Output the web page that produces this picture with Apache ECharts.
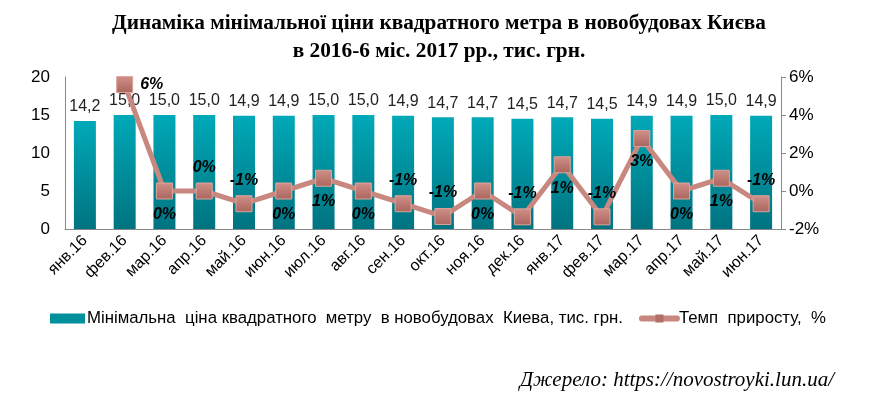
<!DOCTYPE html>
<html><head><meta charset="utf-8">
<script src="https://cdn.jsdelivr.net/npm/echarts@6/dist/echarts.min.js"></script>
<style>html,body{margin:0;padding:0;background:#fff}#c{width:878px;height:398px}</style>
</head><body><div id="c"></div>
<script>
var categories = ['янв.16','фев.16','мар.16','апр.16','май.16','июн.16','июл.16','авг.16','сен.16','окт.16','ноя.16','дек.16','янв.17','фев.17','мар.17','апр.17','май.17','июн.17'];
var priceValues = [14.2,15.0,15.0,15.0,14.9,14.9,15.0,15.0,14.9,14.7,14.7,14.5,14.7,14.5,14.9,14.9,15.0,14.9];
var growthValues = [null,5.6,0.0,0.0,-0.67,0.0,0.67,0.0,-0.67,-1.34,0.0,-1.36,1.38,-1.36,2.76,0.0,0.67,-0.67];
var leftTicks = [0,5,10,15,20];
var rightTicks = ['-2%','0%','2%','4%','6%'];
var barName = 'Мінімальна  ціна квадратного  метру  в новобудовах  Киева, тис. грн.';
var lineName = 'Темп  приросту,  %';
var titleLines = ['Динаміка мінімальної ціни квадратного метра в новобудовах Києва', 'в 2016-6 міс. 2017 рр., тис. грн.'];
var sourceText = 'Джерело: https://novostroyki.lun.ua/';

var growthLabelPos = ['top','right','bottom','top','top','bottom','bottom','bottom','top','top','bottom','top','bottom','top','bottom','bottom','bottom','top'];

var chart = echarts.init(document.getElementById('c'), null, {renderer:'canvas'});
var lineData = growthValues.map(function(v,i){
  if (v === null) return '-';
  return {value:v, label:{position:growthLabelPos[i]}};
});
var titleStyle = {fontFamily:'Liberation Serif', fontWeight:'bold', fontSize:21.3, fill:'#000', align:'center', verticalAlign:'middle'};
chart.setOption({
  animation:false,
  grid:{left:65, right:97, top:77, bottom:169},
  legend:{
    left:45, top:305, itemGap:16, itemWidth:35, itemHeight:10,
    textStyle:{fontFamily:'Liberation Sans', fontSize:16.8, color:'#000', padding:[0,0,0,-3]},
    data:[
      {name:barName, icon:'rect', itemStyle:{color:'#00909c'}},
      {name:lineName, itemStyle:{color:'#b06e66', borderWidth:0}, lineStyle:{color:'#c8877f', width:6, cap:'round'}}
    ]
  },
  xAxis:{
    type:'category', data:categories,
    axisLine:{lineStyle:{color:'#888'}},
    axisTick:{show:false},
    axisLabel:{rotate:45, color:'#000', fontFamily:'Liberation Sans', fontSize:16, interval:0, margin:9}
  },
  yAxis:[
    {type:'value', min:leftTicks[0], max:leftTicks[leftTicks.length-1], interval:5,
     axisLine:{show:true, lineStyle:{color:'#888'}}, axisTick:{show:false}, splitLine:{show:false},
     axisLabel:{color:'#000', fontFamily:'Liberation Sans', fontSize:17, margin:15}},
    {type:'value', min:-2, max:6, interval:2,
     axisLine:{show:true, lineStyle:{color:'#888'}}, axisTick:{show:true, length:5, lineStyle:{color:'#888'}}, splitLine:{show:false},
     axisLabel:{color:'#000', fontFamily:'Liberation Sans', fontSize:17, margin:8,
       formatter:function(v){ return rightTicks[(v+2)/2]; }}}
  ],
  series:[
    {name:barName, type:'bar', data:priceValues, barWidth:22, yAxisIndex:0, z:1,
     itemStyle:{color:new echarts.graphic.LinearGradient(0,0,0,1,[{offset:0,color:'#00a9b8'},{offset:1,color:'#007380'}])},
     label:{show:true, position:'top', distance:6, color:'#222', fontFamily:'Liberation Sans', fontSize:16,
       formatter:function(p){return p.value.toFixed(1).replace('.',',');}}},
    {name:lineName, type:'line', data:lineData, yAxisIndex:1, connectNulls:false, z:5, zlevel:1,
     symbol:'rect', symbolSize:16, showAllSymbol:true,
     lineStyle:{color:'#c8877f', width:5},
     itemStyle:{color:new echarts.graphic.LinearGradient(0,0,0,1,[{offset:0,color:'#d09088'},{offset:1,color:'#a9655e'}]), borderColor:'#dda49c', borderWidth:1},
     label:{show:true, color:'#000', fontFamily:'Liberation Sans', fontSize:16, fontWeight:'bold', fontStyle:'italic', distance:7,
       formatter:function(p){var r=Math.round(p.value); if(r===0) r=0; return r+'%';}}}
  ],
  graphic:[
    {type:'text', x:439, y:23, style:Object.assign({text:titleLines[0]}, titleStyle)},
    {type:'text', x:439, y:51, style:Object.assign({text:titleLines[1]}, titleStyle)},
    {type:'text', right:44, top:370, style:{text:sourceText, fontFamily:'Liberation Serif', fontStyle:'italic', fontSize:21, fill:'#000'}}
  ]
});
</script></body></html>
